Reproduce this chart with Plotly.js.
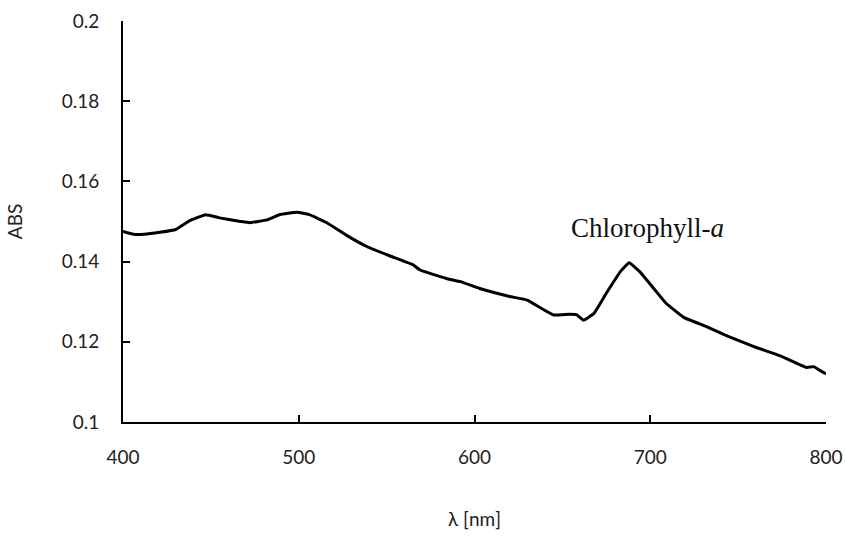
<!DOCTYPE html>
<html>
<head>
<meta charset="utf-8">
<script src="https://cdn.plot.ly/plotly-3.0.1.min.js"></script>
<style>html,body{margin:0;padding:0;background:#fff;}#chart{width:846px;height:540px;}</style>
</head>
<body>
<div id="chart"></div>
<script>
const wavelength = [400, 406, 412, 421, 430, 438, 447, 455, 467, 472, 482, 489, 499, 506, 516, 527, 539, 552, 565, 569, 584, 592, 603, 611, 620, 630, 637, 645, 654, 658, 662, 668, 675, 683, 688, 694, 702, 709, 719, 732, 744, 759, 774, 789, 793, 796, 800];
const absorbance = [0.1475, 0.1468, 0.1468, 0.1473, 0.1480, 0.1502, 0.1517, 0.1509, 0.1500, 0.1497, 0.1504, 0.1517, 0.1523, 0.1517, 0.1497, 0.1466, 0.1437, 0.1414, 0.1392, 0.1379, 0.1358, 0.1350, 0.1333, 0.1323, 0.1313, 0.1304, 0.1286, 0.1267, 0.1269, 0.1268, 0.1254, 0.1271, 0.1321, 0.1375, 0.1397, 0.1375, 0.1333, 0.1296, 0.1261, 0.1238, 0.1214, 0.1188, 0.1165, 0.1136, 0.1138, 0.1130, 0.1120];
const yTicks = [0.1, 0.12, 0.14, 0.16, 0.18, 0.2];
const yTickLabels = ['0.1', '0.12', '0.14', '0.16', '0.18', '0.2'];
const xTicks = [400, 500, 600, 700, 800];
const annotationText = 'Chlorophyll-<i>a</i>';

const tickFont = {family: 'Lato, sans-serif', size: 19, color: '#222'};

Plotly.newPlot('chart', [{
  x: wavelength, y: absorbance, type: 'scatter', mode: 'lines',
  line: {color: '#000', width: 3, shape: 'spline', smoothing: 0.3},
  hoverinfo: 'skip'
}], {
  width: 846, height: 540,
  margin: {l: 123, r: 20, t: 21, b: 118},
  paper_bgcolor: '#fff', plot_bgcolor: '#fff',
  showlegend: false,
  xaxis: {
    range: [400, 800], tickvals: xTicks, ticktext: xTicks.map(String),
    ticks: 'inside', ticklen: 7, tickwidth: 2, tickcolor: '#000',
    showline: true, linecolor: '#000', linewidth: 2, showgrid: false, zeroline: false,
    tickfont: tickFont, ticklabelstandoff: 17,
    title: {text: 'λ [nm]', font: tickFont, standoff: 46}
  },
  yaxis: {
    range: [0.1, 0.2], tickvals: yTicks, ticktext: yTickLabels,
    ticks: 'inside', ticklen: 7, tickwidth: 2, tickcolor: '#000',
    showline: true, linecolor: '#000', linewidth: 2, showgrid: false, zeroline: false,
    tickfont: tickFont, ticklabelstandoff: 18,
    title: {text: 'ABS', font: tickFont, standoff: 34}
  },
  annotations: [{
    x: 698.7, y: 0.1484, xref: 'x', yref: 'y', text: annotationText, showarrow: false,
    font: {family: 'Liberation Serif, serif', size: 27, color: '#111'}
  }]
}, {displayModeBar: false, staticPlot: true});
</script>
</body>
</html>
